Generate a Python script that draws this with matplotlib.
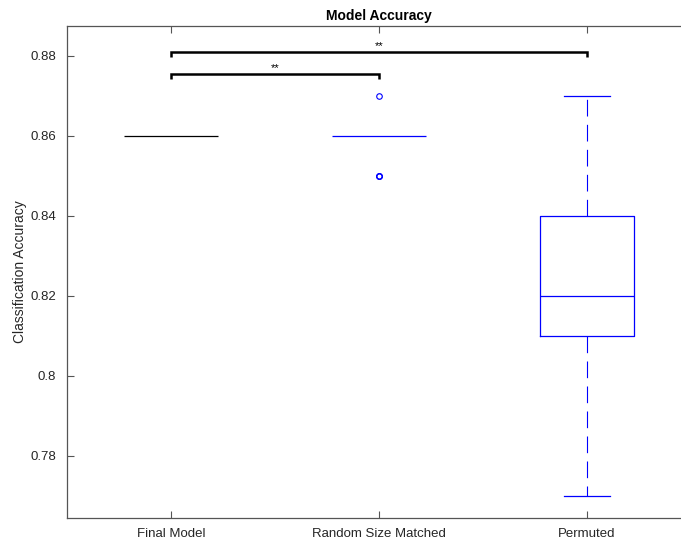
import matplotlib
matplotlib.use("Agg")
import matplotlib.pyplot as plt

plt.rcParams['font.family'] = ['Liberation Sans', 'DejaVu Sans']

# Groups and their box statistics
categories = ["Final Model", "Random Size Matched", "Permuted"]
medians = [0.86, 0.86, 0.82]
q1 = [0.86, 0.86, 0.81]
q3 = [0.86, 0.86, 0.84]
whisker_low = [0.86, 0.86, 0.77]
whisker_high = [0.86, 0.86, 0.87]
outliers = [[], [0.87, 0.85, 0.85, 0.85], []]

# Significance brackets: (from group, to group, height, label)
brackets = [(1, 2, 0.8755, "**"), (1, 3, 0.8810, "**")]

yticks = [0.78, 0.80, 0.82, 0.84, 0.86, 0.88]
ytick_labels = ["0.78", "0.8", "0.82", "0.84", "0.86", "0.88"]

fig = plt.figure(figsize=(6.81, 5.44), dpi=100)
W, H = 681, 544
left, right, top, bottom = 67, 691, 26, 518
ax = fig.add_axes([left / W, 1 - bottom / H, (right - left) / W, (bottom - top) / H])

blue = (0, 0, 1)
stats = []
for i, name in enumerate(categories):
    stats.append(dict(label=name, med=medians[i], q1=q1[i], q3=q3[i],
                      whislo=whisker_low[i], whishi=whisker_high[i],
                      fliers=outliers[i]))

positions = [1, 2, 3]
# The first group has no spread; drawn as a plain black median line
ax.hlines(medians[0], 1 - 0.225, 1 + 0.225, color='black', lw=0.9)
bp = ax.bxp(stats[1:], positions=positions[1:], widths=0.45, showfliers=True,
            boxprops=dict(color=blue, lw=0.9),
            medianprops=dict(color=blue, lw=0.9),
            whiskerprops=dict(color=blue, lw=0.8, linestyle=(0, (15, 7.5))),
            capprops=dict(color=blue, lw=0.9),
            capwidths=0.225,
            flierprops=dict(marker='o', markerfacecolor='none',
                            markeredgecolor=blue, markersize=4, markeredgewidth=0.8))
# Hide degenerate box parts of the second group (box collapsed to its median)
for art in (bp['boxes'][0], bp['whiskers'][0], bp['whiskers'][1],
            bp['caps'][0], bp['caps'][1]):
    art.set_visible(False)

# Significance brackets
for a, b, h, lab in brackets:
    ax.plot([a, a, b, b], [h - 0.0013, h, h, h - 0.0013], color='black', lw=1.8,
            solid_capstyle='butt', solid_joinstyle='miter')
    ax.text((a + b) / 2, h + 0.0003, lab, ha='center', va='bottom', fontsize=8)

ax.set_xlim(0.5, 3.5)
ax.set_ylim(0.7645, 0.8875)
ax.set_xticks(positions)
ax.set_xticklabels(categories, fontsize=9.5, color='#262626')
ax.set_yticks(yticks)
ax.set_yticklabels(ytick_labels, fontsize=9.5, color='#262626')
ax.set_ylabel("Classification Accuracy", fontsize=10, color='#262626', labelpad=2)
ax.set_title("Model Accuracy", fontsize=10, fontweight='bold', pad=4)

axis_col = '#555555'
for side in ['left', 'bottom', 'top']:
    ax.spines[side].set_color(axis_col)
    ax.spines[side].set_linewidth(0.9)
ax.spines['right'].set_visible(False)
ax.tick_params(axis='both', direction='in', length=5, width=0.8, color=axis_col)
ax.tick_params(axis='x', top=True, pad=7)
ax.tick_params(axis='y', pad=8)

fig.savefig("out.png", dpi=100)
